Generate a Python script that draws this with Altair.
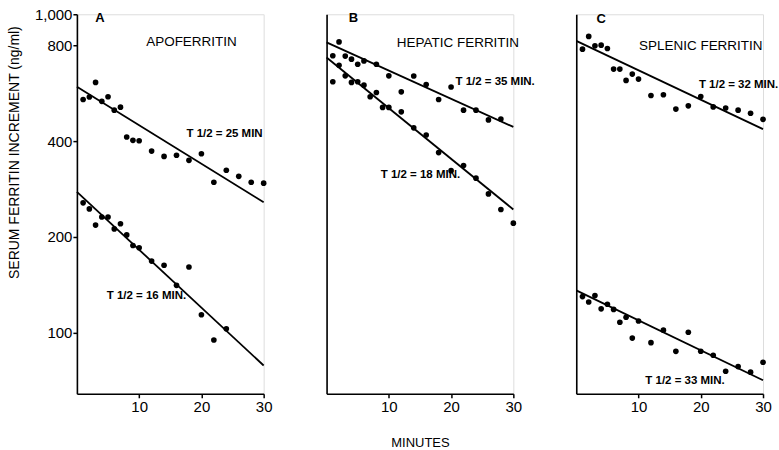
import altair as alt
import pandas as pd

FONT = "Liberation Sans"

# ---------------- data ----------------
minutes_full = [1, 2, 3, 4, 5, 6, 7, 8, 9, 10, 12, 14, 16, 18, 20, 22, 24, 26, 28, 30]

# Panel A: apoferritin
apo_upper_min = minutes_full
apo_upper = [540, 550, 611, 533, 551, 500, 511, 412, 402, 401, 372, 358, 361, 348, 365, 297, 324, 310, 297, 295]
apo_lower_min = [1, 2, 3, 4, 5, 6, 7, 8, 9, 10, 12, 14, 16, 18, 20, 22, 24]
apo_lower = [256, 245, 218, 231, 231, 212, 220, 203, 188, 185, 168, 163, 141, 161, 114, 95, 103]

# Panel B: hepatic ferritin
hep_upper_min = [1, 2, 3, 4, 5, 6, 8, 10, 12, 14, 16, 18, 20, 22, 24, 26, 28]
hep_upper = [614, 819, 739, 723, 697, 714, 697, 641, 571, 640, 602, 540, 591, 500, 500, 466, 469]
hep_lower_min = minutes_full
hep_lower = [741, 692, 641, 611, 614, 599, 551, 568, 510, 510, 494, 440, 418, 368, 323, 335, 306, 273, 244, 221]

# Panel C: splenic ferritin
spl_upper_min = minutes_full
spl_upper = [777, 852, 796, 800, 781, 673, 673, 620, 649, 626, 556, 559, 504, 516, 552, 512, 508, 500, 489, 468]
spl_lower_min = minutes_full
spl_lower = [130, 125, 131, 119, 123, 118.5, 108, 112, 96.3, 109, 93.2, 102, 87.5, 100.5, 87.6, 85.1, 75.8, 78.4, 75.3, 80.9]

# Regression lines (end points)
fit_minutes = [0, 30]
apo_fit_upper = [592, 257]
apo_fit_lower = [277, 79]
hep_fit_upper = [816, 443]
hep_fit_lower = [732, 244]
spl_fit_upper = [825, 436]
spl_fit_lower = [136, 71]

# Labels
panel_letters = ["A", "B", "C"]
panel_titles = ["APOFERRITIN", "HEPATIC FERRITIN", "SPLENIC FERRITIN"]
half_lives = [["T 1/2 = 25 MIN", "T 1/2 = 16 MIN."],
              ["T 1/2 = 35 MIN.", "T 1/2 = 18 MIN."],
              ["T 1/2 = 32 MIN.", "T 1/2 = 33 MIN."]]

# annotation anchors in data units (minutes, ng/ml)
letter_pos = [(3.7, 975), (4.3, 975), (4.0, 965)]
title_pos = [(18.4, 818), (21.1, 815), (20.0, 794)]
hl_pos = [[(17.6, 421), (4.8, 131)],
          [(20.7, 615), (8.7, 313)],
          [(19.7, 599), (11.1, 70.4)]]

Y_TICKS = [100, 200, 400, 800, 1000]
X_TICKS = [10, 20, 30]
Y_DOMAIN = [64.4, 1000]

W, H = 187, 380


def make_panel(i, series_min, series_val, fits, show_y, show_xtitle):
    pts = pd.concat([pd.DataFrame({"minutes": m, "value": v}) for m, v in zip(series_min, series_val)],
                    ignore_index=True)
    lines = pd.concat([pd.DataFrame({"minutes": fit_minutes, "value": f, "s": k}) for k, f in enumerate(fits)],
                      ignore_index=True)

    xaxis = alt.Axis(values=X_TICKS, labelFont=FONT, labelFontSize=15, labelColor="black",
                     labelFlush=False, labelPadding=2, tickSize=4, tickColor="black", tickWidth=1.5,
                     domainColor="black", domainWidth=1.6, grid=False,
                     title="MINUTES" if show_xtitle else None,
                     titleFont=FONT, titleFontSize=13, titleFontWeight="normal",
                     titleColor="black", titlePadding=22)
    if show_y:
        yaxis = alt.Axis(values=Y_TICKS, format=",", labelFont=FONT, labelFontSize=15,
                         labelColor="black", labelPadding=1, labelFlush=False,
                         tickSize=4, tickColor="black", tickWidth=1.5,
                         domainColor="black", domainWidth=1.6, grid=False,
                         title="SERUM FERRITIN INCREMENT (ng/ml)", titleFont=FONT,
                         titleFontSize=14, titleFontWeight="normal", titleColor="black",
                         titleX=-62, titleY=138, titleAlign="center", titleBaseline="middle",
                         titleAngle=270)
    else:
        yaxis = alt.Axis(values=Y_TICKS, labels=False, ticks=False, domainColor="black",
                         domainWidth=1.6, grid=False, title=None)

    x = alt.X("minutes:Q", scale=alt.Scale(domain=[0, 30], nice=False), axis=xaxis)
    y = alt.Y("value:Q", scale=alt.Scale(type="log", domain=Y_DOMAIN, nice=False), axis=yaxis)

    line_layer = alt.Chart(lines).mark_line(color="black", strokeWidth=1.8).encode(
        x=x, y=y, detail="s:N")
    pt_layer = alt.Chart(pts).mark_circle(color="black", size=32, opacity=1).encode(
        x="minutes:Q", y="value:Q")

    letter_df = pd.DataFrame({"minutes": [letter_pos[i][0]], "value": [letter_pos[i][1]],
                              "label": [panel_letters[i]]})
    title_df = pd.DataFrame({"minutes": [title_pos[i][0]], "value": [title_pos[i][1]],
                             "label": [panel_titles[i]]})
    hl_df = pd.DataFrame({"minutes": [p[0] for p in hl_pos[i]], "value": [p[1] for p in hl_pos[i]],
                          "label": half_lives[i]})

    letter_layer = alt.Chart(letter_df).mark_text(font=FONT, fontSize=13, fontWeight="bold",
                                                  color="black", align="center", baseline="middle").encode(
        x="minutes:Q", y="value:Q", text="label:N")
    title_layer = alt.Chart(title_df).mark_text(font=FONT, fontSize=13.5, color="black",
                                                align="center", baseline="middle").encode(
        x="minutes:Q", y="value:Q", text="label:N")
    hl_layer = alt.Chart(hl_df).mark_text(font=FONT, fontSize=11.5, fontWeight="bold", color="black",
                                          align="left", baseline="middle").encode(
        x="minutes:Q", y="value:Q", text="label:N")

    return alt.layer(line_layer, pt_layer, letter_layer, title_layer, hl_layer).properties(
        width=W, height=H)


pA = make_panel(0, [apo_upper_min, apo_lower_min], [apo_upper, apo_lower],
                [apo_fit_upper, apo_fit_lower], True, False)
pB = make_panel(1, [hep_upper_min, hep_lower_min], [hep_upper, hep_lower],
                [hep_fit_upper, hep_fit_lower], False, True)
pC = make_panel(2, [spl_upper_min, spl_lower_min], [spl_upper, spl_lower],
                [spl_fit_upper, spl_fit_lower], False, False)

chart = alt.hconcat(pA, pB, pC, spacing=63, bounds="flush").properties(
    padding={"left": 7, "top": 6, "right": 0, "bottom": 0}
).configure_view(stroke=None).configure(background="white")

chart.save("out.html", embed_options={"renderer": "svg", "actions": False})
